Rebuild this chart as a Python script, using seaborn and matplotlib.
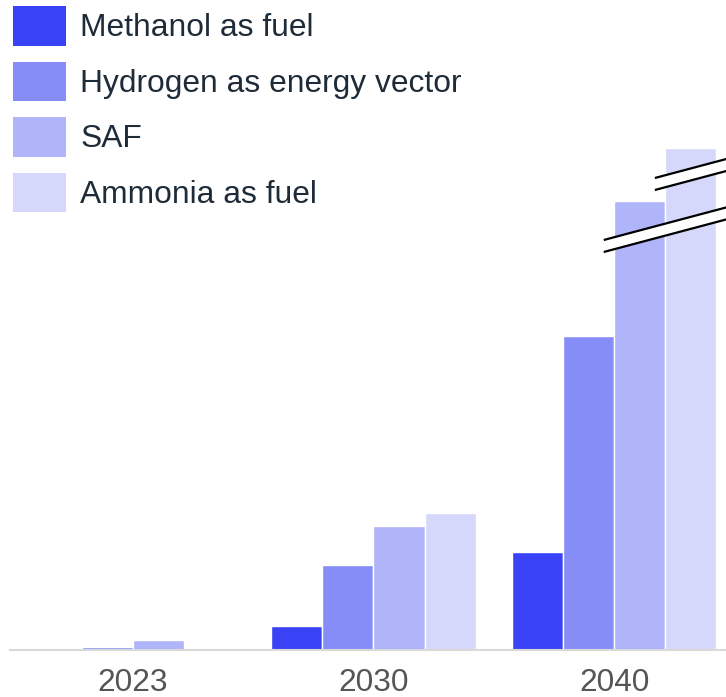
import seaborn as sns
import matplotlib.pyplot as plt
import pandas as pd
from matplotlib.patches import Patch, Polygon

# data (bar heights, arbitrary units)
years = ["2023", "2030", "2040"]
fuels = ["Methanol as fuel", "Hydrogen as energy vector", "SAF", "Ammonia as fuel"]
methanol = [0.4, 24, 98]
hydrogen = [3, 85, 314]
saf = [10, 124, 449]
ammonia = [0.3, 137, 502]
colors = ["#3a42f5", "#878df7", "#b0b4f9", "#d6d8fb"]

rows = []
for fuel, vals in zip(fuels, [methanol, hydrogen, saf, ammonia]):
    for yr, v in zip(years, vals):
        rows.append({"year": yr, "fuel": fuel, "value": v})
df = pd.DataFrame(rows)

sns.set_theme(style="white")
plt.rcParams["font.family"] = ["Liberation Sans", "DejaVu Sans"]

fig = plt.figure(figsize=(7.26, 6.97), dpi=100)
ax = fig.add_axes([10 / 726, 47 / 697, 716 / 726, 650 / 697])

sns.barplot(data=df, x="year", y="value", hue="fuel", order=years, hue_order=fuels,
            palette=colors, width=0.85, saturation=1, ax=ax, legend=False)

ax.set_xlim(-0.51, 2.465)
ax.set_ylim(0, 650)
ax.set_xlabel("")
ax.set_ylabel("")
ax.set_yticks([])
for s in ["top", "right", "left"]:
    ax.spines[s].set_visible(False)
ax.spines["bottom"].set_color("#d9d9d9")
ax.spines["bottom"].set_linewidth(1.5)
ax.tick_params(axis="x", length=0, pad=13, labelsize=22.8, labelcolor="#555555")

# axis break marks on the two tallest 2040 bars
def add_break(patch, offset):
    x0 = patch.get_x() - 0.043
    x1 = 2.5
    y0 = patch.get_height() - offset
    slope = 64
    gap = 12
    y1 = y0 + slope * (x1 - x0)
    ax.add_patch(Polygon([(x0, y0), (x1, y1), (x1, y1 + gap), (x0, y0 + gap)],
                         closed=True, facecolor="white", edgecolor="none", zorder=5))
    ax.plot([x0, x1], [y0, y1], color="black", lw=1.6, zorder=6, solid_capstyle="butt")
    ax.plot([x0, x1], [y0 + gap, y1 + gap], color="black", lw=1.6, zorder=6, solid_capstyle="butt")

bars = [p for p in ax.patches if p.get_height() > 0]
bars_sorted = sorted(bars, key=lambda p: p.get_x())
add_break(bars_sorted[-2], 51)
add_break(bars_sorted[-1], 42)

handles = [Patch(facecolor=c, edgecolor="none") for c in colors]
fig.legend(handles, fuels, loc="upper left", bbox_to_anchor=(13 / 726, 1 - 6 / 697),
           frameon=False, fontsize=22.9, handlelength=1.67, handleheight=1.54,
           handletextpad=0.44, labelspacing=0.5, borderpad=0, borderaxespad=0,
           labelcolor="#1e2b38")

fig.savefig("out.png", dpi=100)
